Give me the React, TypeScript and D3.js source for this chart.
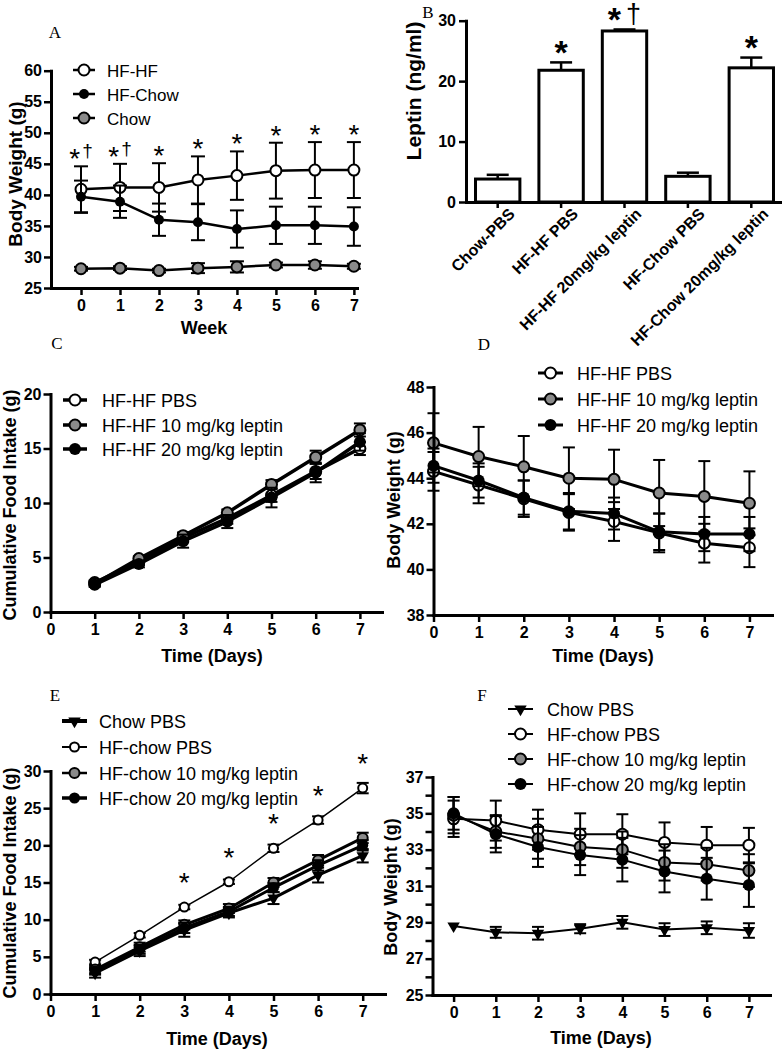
import React, { useEffect, useRef } from 'react';
import * as d3 from 'd3';

// ---- Panel A: body weight by week
const aWeeks = [0, 1, 2, 3, 4, 5, 6, 7];
const aHFHF = [40.9, 41.2, 41.2, 42.4, 43.1, 43.9, 44.0, 44.0];
const aHFHFErr = [3.7, 3.8, 3.9, 3.8, 3.9, 4.5, 4.5, 4.5];
const aHFChow = [39.7, 38.9, 36.0, 35.6, 34.5, 35.1, 35.1, 34.9];
const aHFChowErr = [2.6, 2.6, 2.6, 2.9, 3.0, 3.0, 3.0, 3.1];
const aChow = [28.1, 28.2, 27.8, 28.2, 28.4, 28.7, 28.7, 28.5];
const aChowErr = [0.3, 0.3, 0.3, 0.8, 0.9, 0.4, 0.6, 0.4];
const aSig = ['*†', '*†', '*', '*', '*', '*', '*', '*'];
const aYTicks = [25, 30, 35, 40, 45, 50, 55, 60];

// ---- Panel B: leptin
const bGroups = ['Chow-PBS', 'HF-HF PBS', 'HF-HF 20mg/kg leptin', 'HF-Chow PBS', 'HF-Chow 20mg/kg leptin'];
const bLeptin = [3.8, 21.8, 28.3, 4.25, 22.2];
const bLeptinErr = [0.7, 1.3, 0.25, 0.6, 1.7];
const bSig = ['', '*', '*†', '', '*'];
const bYTicks = [0, 10, 20, 30];

// ---- Panel C: cumulative food intake, HF-HF
const cDays = [1, 2, 3, 4, 5, 6, 7];
const cPBS = [2.7, 4.6, 6.8, 8.6, 10.7, 12.9, 15.0];
const cPBSErr = [0.2, 0.3, 0.4, 0.5, 0.6, 0.7, 0.6];
const c10 = [2.6, 4.9, 7.0, 9.1, 11.7, 14.2, 16.7];
const c10Err = [0.2, 0.2, 0.3, 0.3, 0.4, 0.6, 0.6];
const c20 = [2.5, 4.4, 6.5, 8.3, 10.5, 12.8, 15.6];
const c20Err = [0.2, 0.3, 0.6, 0.6, 0.9, 0.9, 0.8];
const cYTicks = [0, 5, 10, 15, 20];

// ---- Panel D: body weight, HF-HF
const dDays = [0, 1, 2, 3, 4, 5, 6, 7];
const dPBS = [44.3, 43.7, 43.1, 42.5, 42.1, 41.6, 41.15, 40.95];
const dPBSErr = [0.85, 0.8, 0.8, 0.8, 0.85, 0.85, 0.85, 0.85];
const d10 = [45.55, 44.95, 44.5, 44.0, 43.95, 43.35, 43.2, 42.9];
const d10Err = [1.3, 1.3, 1.35, 1.35, 1.3, 1.45, 1.55, 1.4];
const d20 = [44.55, 43.9, 43.15, 42.55, 42.45, 41.65, 41.55, 41.55];
const d20Err = [0.75, 0.75, 0.75, 0.8, 0.7, 0.8, 0.75, 0.75];
const dYTicks = [38, 40, 42, 44, 46, 48];

// ---- Panel E: cumulative food intake, HF-chow
const eDays = [1, 2, 3, 4, 5, 6, 7];
const eChowPBS = [2.8, 5.8, 8.6, 10.9, 12.9, 16.0, 18.6];
const eChowPBSErr = [0.6, 0.7, 0.9, 0.6, 0.8, 1.0, 0.9];
const eHFchowPBS = [4.3, 7.9, 11.7, 15.1, 19.6, 23.4, 27.7];
const eHFchowPBSErr = [0.3, 0.3, 0.3, 0.3, 0.5, 0.5, 0.7];
const e10 = [3.3, 6.3, 9.3, 11.5, 15.0, 18.0, 21.0];
const e10Err = [0.5, 0.6, 0.6, 0.6, 0.6, 0.7, 0.7];
const e20 = [3.1, 6.0, 8.9, 11.1, 14.3, 17.3, 20.0];
const e20Err = [0.5, 0.6, 0.7, 0.6, 0.6, 0.7, 0.7];
const eSig = ['', '', '*', '*', '*', '*', '*'];
const eYTicks = [0, 5, 10, 15, 20, 25, 30];

// ---- Panel F: body weight, HF-chow
const fDays = [0, 1, 2, 3, 4, 5, 6, 7];
const fChowPBS = [28.8, 28.45, 28.4, 28.65, 29.0, 28.6, 28.7, 28.55];
const fChowPBSErr = [0, 0.3, 0.35, 0.25, 0.35, 0.35, 0.35, 0.4];
const fHFchowPBS = [34.7, 34.6, 34.1, 33.85, 33.85, 33.4, 33.25, 33.25];
const fHFchowPBSErr = [1.0, 1.1, 1.1, 1.15, 1.1, 1.1, 1.0, 0.95];
const f10 = [34.9, 34.0, 33.6, 33.15, 33.0, 32.3, 32.2, 31.85];
const f10Err = [1.0, 0.9, 1.1, 1.0, 1.0, 1.0, 0.9, 0.9];
const f20 = [35.0, 33.85, 33.15, 32.7, 32.45, 31.8, 31.4, 31.05];
const f20Err = [0.9, 1.0, 1.1, 1.1, 1.2, 1.15, 1.15, 1.2];
const fYTicks = [25, 26, 27, 28, 29, 30, 31, 32, 33, 34, 35, 36, 37];

const dayTicks = [0, 1, 2, 3, 4, 5, 6, 7];

const SANS = "'Liberation Sans', Arial, Helvetica, sans-serif";
const SERIF = "'Liberation Serif', 'Times New Roman', serif";

function marker(g, kind, cx, cy, r) {
  if (kind === 'tri') {
    g.append('path')
      .attr('d', d3.symbol(d3.symbolTriangle, r * r * 2.2)())
      .attr('transform', `translate(${cx},${cy}) rotate(180)`)
      .attr('fill', '#000');
    return;
  }
  g.append('circle')
    .attr('cx', cx).attr('cy', cy).attr('r', r)
    .attr('fill', kind === 'open' ? '#fff' : kind === 'grey' ? '#8a8a8a' : '#000')
    .attr('stroke', '#000')
    .attr('stroke-width', kind === 'black' ? 0 : 2);
}

function sigText(g, x, y, label, size, weight, dagSize, dagDy, dagDx) {
  const t = g.append('text')
    .attr('x', x).attr('y', y)
    .attr('text-anchor', 'middle')
    .attr('font-family', SANS)
    .attr('font-size', size)
    .attr('font-weight', weight);
  t.append('tspan').text('*');
  if (label.includes('†')) {
    t.append('tspan').attr('font-size', dagSize).attr('font-weight', 'normal')
      .attr('dy', dagDy).attr('dx', dagDx).text('†');
  }
}

function styleAxis(a) {
  a.select('.domain').attr('stroke-width', 3).attr('stroke-linecap', 'square');
  a.selectAll('.tick line').attr('stroke-width', 2.5);
  a.selectAll('text')
    .attr('font-family', SANS).attr('font-weight', 'bold')
    .attr('font-size', 16).attr('fill', '#000');
}

function drawLinePanel(svg, p) {
  const x = d3.scaleLinear().domain(p.xDomain).range([p.left, p.right]);
  const y = d3.scaleLinear().domain(p.yDomain).range([p.bottom, p.top]);
  const g = svg.append('g');

  p.series.forEach(s => {
    const pts = s.x.map((v, i) => ({ x: v, y: s.y[i], e: s.err[i] }));
    const eg = g.append('g').attr('stroke', '#000').attr('stroke-width', 2);
    pts.filter(d => d.e > 0).forEach(d => {
      const cx = x(d.x), y1 = y(d.y + d.e), y2 = y(d.y - d.e);
      eg.append('line').attr('x1', cx).attr('x2', cx).attr('y1', y1).attr('y2', y2);
      [y1, y2].forEach(yy => eg.append('line')
        .attr('x1', cx - p.cap).attr('x2', cx + p.cap).attr('y1', yy).attr('y2', yy));
    });
    g.append('path').datum(pts)
      .attr('fill', 'none').attr('stroke', '#000')
      .attr('stroke-width', s.lw).attr('stroke-linejoin', 'round')
      .attr('d', d3.line().x(d => x(d.x)).y(d => y(d.y)));
    pts.forEach(d => marker(g, s.marker, x(d.x), y(d.y), s.r));
  });

  const ya = svg.append('g').attr('transform', `translate(${p.left},0)`)
    .call(d3.axisLeft(y).tickValues(p.yTicks).tickSize(7).tickSizeOuter(0).tickPadding(2)
      .tickFormat(p.yFormat || (d => String(d))));
  const xa = svg.append('g').attr('transform', `translate(0,${p.bottom})`)
    .call(d3.axisBottom(x).tickValues(p.xTicks).tickSize(7).tickSizeOuter(0).tickPadding(5)
      .tickFormat(d => String(d)));
  styleAxis(ya);
  styleAxis(xa);

  // titles
  svg.append('text')
    .attr('transform', `translate(${p.yTitleX + 7},${p.yTitleY}) rotate(-90)`)
    .attr('text-anchor', 'middle').attr('font-family', SANS)
    .attr('font-weight', 'bold').attr('font-size', p.yTitleSize || 18)
    .text(p.yTitle);
  svg.append('text')
    .attr('x', p.xTitleX).attr('y', p.xTitleY)
    .attr('text-anchor', 'middle').attr('font-family', SANS)
    .attr('font-weight', 'bold').attr('font-size', 18)
    .text(p.xTitle);
  svg.append('text')
    .attr('x', p.letter[1]).attr('y', p.letter[2] + 6)
    .attr('text-anchor', 'middle').attr('font-family', SERIF).attr('font-size', 17)
    .text(p.letter[0]);

  // legend
  const L = p.legend;
  p.series.forEach((s, i) => {
    const ry = L.rows[i];
    g.append('line').attr('x1', L.x0).attr('x2', L.x1).attr('y1', ry).attr('y2', ry)
      .attr('stroke', '#000').attr('stroke-width', s.legendLw || s.lw);
    marker(g, s.marker, (L.x0 + L.x1) / 2, ry, s.legendR || s.r);
    g.append('text').attr('x', L.tx).attr('y', ry + 6.5)
      .attr('font-family', SANS).attr('font-size', L.fs)
      .text(s.name);
  });

  // significance marks
  if (p.sig) {
    p.sig.labels.forEach((lab, i) => {
      if (!lab) return;
      sigText(g, x(p.sig.x[i]), y(p.sig.at(i)) + p.sig.dy, lab, 28, 'normal', 19, -11, 2);
    });
  }
}

function drawBars(svg) {
  const left = 466, right = 783, top = 20.7, bottom = 202;
  const x = d3.scaleBand().domain(bGroups).range([left, right]).paddingInner(0.3).paddingOuter(0.15);
  const y = d3.scaleLinear().domain([0, 30]).range([bottom, top]);
  const g = svg.append('g');

  bGroups.forEach((grp, i) => {
    const cx = x(grp) + x.bandwidth() / 2;
    const yt = y(bLeptin[i] + bLeptinErr[i]);
    g.append('line').attr('x1', cx).attr('x2', cx).attr('y1', y(bLeptin[i])).attr('y2', yt)
      .attr('stroke', '#000').attr('stroke-width', 2.5);
    g.append('line').attr('x1', cx - 11).attr('x2', cx + 11).attr('y1', yt).attr('y2', yt)
      .attr('stroke', '#000').attr('stroke-width', 2.5);
    g.append('rect')
      .attr('x', x(grp)).attr('y', y(bLeptin[i]))
      .attr('width', x.bandwidth()).attr('height', bottom - y(bLeptin[i]))
      .attr('fill', '#fff').attr('stroke', '#000').attr('stroke-width', 3);
    if (bSig[i]) sigText(g, cx, yt + 1.5, bSig[i], 34, 'bold', 27, -8, 5);
    g.append('text')
      .attr('transform', `translate(${cx + 18},215) rotate(-45)`)
      .attr('text-anchor', 'end').attr('font-family', SANS)
      .attr('font-weight', 'bold').attr('font-size', 16)
      .text(grp);
  });

  const ya = svg.append('g').attr('transform', `translate(${left},0)`)
    .call(d3.axisLeft(y).tickValues(bYTicks).tickSize(7).tickSizeOuter(0).tickPadding(3));
  const xa = svg.append('g').attr('transform', `translate(0,${bottom})`)
    .call(d3.axisBottom(x).tickSize(6).tickSizeOuter(0).tickFormat(() => ''));
  styleAxis(ya);
  styleAxis(xa);

  svg.append('text')
    .attr('transform', `translate(${421},${91}) rotate(-90)`)
    .attr('text-anchor', 'middle').attr('font-family', SANS)
    .attr('font-weight', 'bold').attr('font-size', 21)
    .text('Leptin (ng/ml)');
  svg.append('text')
    .attr('x', 428).attr('y', 18)
    .attr('text-anchor', 'middle').attr('font-family', SERIF).attr('font-size', 17)
    .text('B');
}

export default function App() {
  const ref = useRef(null);

  useEffect(() => {
    const svg = d3.select(ref.current);
    svg.selectAll('*').remove();

    drawLinePanel(svg, {
      letter: ['A', 55, 32],
      left: 51, right: 357, top: 70.7, bottom: 288,
      xDomain: [-0.77, 7.08], yDomain: [25, 60],
      yTicks: aYTicks, xTicks: aWeeks, cap: 7,
      yTitle: 'Body Weight (g)', yTitleX: 15, yTitleY: 174, yTitleSize: 19,
      xTitle: 'Week', xTitleX: 204, xTitleY: 334,
      series: [
        { name: 'HF-HF', x: aWeeks, y: aHFHF, err: aHFHFErr, marker: 'open', lw: 2.5, r: 5.5 },
        { name: 'HF-Chow', x: aWeeks, y: aHFChow, err: aHFChowErr, marker: 'black', lw: 2.5, r: 5 },
        { name: 'Chow', x: aWeeks, y: aChow, err: aChowErr, marker: 'grey', lw: 2.5, r: 5.5 },
      ],
      legend: { x0: 73, x1: 95, tx: 107, rows: [70, 94, 118], fs: 17 },
      sig: { x: aWeeks, labels: aSig, at: i => aHFHF[i] + aHFHFErr[i], dy: 2 },
    });

    drawBars(svg);

    drawLinePanel(svg, {
      letter: ['C', 57, 343],
      left: 50.5, right: 382, top: 394, bottom: 612,
      xDomain: [0, 7.5], yDomain: [0, 20],
      yTicks: cYTicks, xTicks: dayTicks, cap: 6,
      yTitle: 'Cumulative Food Intake (g)', yTitleX: 9, yTitleY: 505,
      xTitle: 'Time (Days)', xTitleX: 212, xTitleY: 662,
      series: [
        { name: 'HF-HF PBS', x: cDays, y: cPBS, err: cPBSErr, marker: 'open', lw: 3.5, r: 5.5 },
        { name: 'HF-HF 10 mg/kg leptin', x: cDays, y: c10, err: c10Err, marker: 'grey', lw: 3.5, r: 5.5 },
        { name: 'HF-HF 20 mg/kg leptin', x: cDays, y: c20, err: c20Err, marker: 'black', lw: 3.5, r: 6 },
      ],
      legend: { x0: 63, x1: 87, tx: 102, rows: [400, 425, 449], fs: 18 },
    });

    drawLinePanel(svg, {
      letter: ['D', 484, 344],
      left: 433.5, right: 772, top: 387, bottom: 615,
      xDomain: [0, 7.5], yDomain: [38, 48],
      yTicks: dYTicks, xTicks: dayTicks, cap: 6,
      yTitle: 'Body Weight (g)', yTitleX: 393, yTitleY: 500,
      xTitle: 'Time (Days)', xTitleX: 603, xTitleY: 662,
      series: [
        { name: 'HF-HF PBS', x: dDays, y: dPBS, err: dPBSErr, marker: 'open', lw: 3, r: 5.5 },
        { name: 'HF-HF 10 mg/kg leptin', x: dDays, y: d10, err: d10Err, marker: 'grey', lw: 3, r: 5.5 },
        { name: 'HF-HF 20 mg/kg leptin', x: dDays, y: d20, err: d20Err, marker: 'black', lw: 3, r: 6 },
      ],
      legend: { x0: 538, x1: 563, tx: 577, rows: [373, 399, 425], fs: 18 },
    });

    drawLinePanel(svg, {
      letter: ['E', 55, 695],
      left: 50.5, right: 385, top: 771, bottom: 994,
      xDomain: [0, 7.5], yDomain: [0, 30],
      yTicks: eYTicks, xTicks: dayTicks, cap: 6,
      yTitle: 'Cumulative Food Intake (g)', yTitleX: 9, yTitleY: 883,
      xTitle: 'Time (Days)', xTitleX: 217, xTitleY: 1045,
      series: [
        { name: 'Chow PBS', x: eDays, y: eChowPBS, err: eChowPBSErr, marker: 'tri', lw: 3, r: 5.5, legendLw: 4 },
        { name: 'HF-chow PBS', x: eDays, y: eHFchowPBS, err: eHFchowPBSErr, marker: 'open', lw: 1.5, r: 4.5, legendLw: 2 },
        { name: 'HF-chow 10 mg/kg leptin', x: eDays, y: e10, err: e10Err, marker: 'grey', lw: 3, r: 5, legendLw: 2.5 },
        { name: 'HF-chow 20 mg/kg leptin', x: eDays, y: e20, err: e20Err, marker: 'black', lw: 3, r: 5.5, legendLw: 3.5 },
      ],
      legend: { x0: 62, x1: 87, tx: 99, rows: [721, 747, 773, 798], fs: 18 },
      sig: { x: eDays, labels: eSig, at: i => eHFchowPBS[i], dy: -15 },
    });

    drawLinePanel(svg, {
      letter: ['F', 482, 695],
      left: 432.5, right: 770, top: 777, bottom: 995,
      xDomain: [-0.5, 7.5], yDomain: [25, 37],
      yTicks: fYTicks, xTicks: dayTicks, cap: 6,
      yFormat: d => (d % 2 === 1 ? String(d) : ''),
      yTitle: 'Body Weight (g)', yTitleX: 390, yTitleY: 887,
      xTitle: 'Time (Days)', xTitleX: 601, xTitleY: 1044,
      series: [
        { name: 'Chow PBS', x: fDays, y: fChowPBS, err: fChowPBSErr, marker: 'tri', lw: 2, r: 5.5 },
        { name: 'HF-chow PBS', x: fDays, y: fHFchowPBS, err: fHFchowPBSErr, marker: 'open', lw: 2, r: 5.5 },
        { name: 'HF-chow 10 mg/kg leptin', x: fDays, y: f10, err: f10Err, marker: 'grey', lw: 2, r: 5.5 },
        { name: 'HF-chow 20 mg/kg leptin', x: fDays, y: f20, err: f20Err, marker: 'black', lw: 2, r: 6 },
      ],
      legend: { x0: 508, x1: 533, tx: 547, rows: [709, 734, 759, 784], fs: 18 },
    });
  }, []);

  return (
    <div style={{ position: 'absolute', left: 0, top: 0, width: 782, height: 1050, background: '#fff' }}>
      <svg ref={ref} width={782} height={1050} style={{ display: 'block' }} />
    </div>
  );
}
